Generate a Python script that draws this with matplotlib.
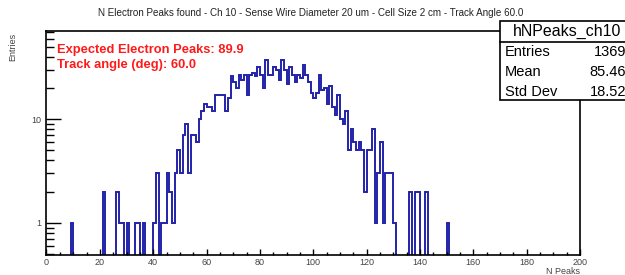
import matplotlib
matplotlib.use('Agg')
import matplotlib.pyplot as plt
import numpy as np
from matplotlib.ticker import FixedLocator, MultipleLocator, LogLocator, NullFormatter
from matplotlib.patches import Rectangle
from matplotlib.lines import Line2D

plt.rcParams['font.family'] = ['Liberation Sans', 'DejaVu Sans']

# histogram contents (bin width 1, range 0-200), only filled bins listed
filled_bins = [9, 21, 26, 27, 28, 30, 33, 34, 36, 40, 41, 43, 44,
               45, 46, 47, 48, 49, 50, 51, 52, 53,
               54, 55, 56, 57, 58, 59, 60, 61, 62,
               63, 64, 65, 66, 67, 68, 69, 70, 71,
               72, 73, 74, 75, 76, 77, 78, 79, 80,
               81, 82, 83, 84, 85, 86, 87, 88, 89,
               90, 91, 92, 93, 94, 95, 96, 97, 98,
               99, 100, 101, 102, 103, 104, 105, 106, 107, 108, 109,
               110, 111, 112, 113, 114, 115, 116, 117, 118,
               119, 120, 121, 122, 123, 124, 125, 126, 127, 128, 129, 130,
               136, 138, 139, 142, 150]
filled_counts = [1, 2, 2, 1, 1, 1, 1, 1, 1, 1, 3, 1, 1,
                 3, 2, 1, 3, 5, 3, 7, 9, 3,
                 7, 7, 6, 10, 12, 14, 13, 13, 12,
                 17, 17, 17, 17, 12, 16, 26, 23, 20,
                 27, 24, 27, 17, 27, 28, 26, 32, 27,
                 20, 37, 27, 27, 32, 30, 24, 37, 30,
                 22, 32, 27, 23, 27, 25, 33, 27, 23,
                 18, 16, 18, 27, 19, 20, 14, 21, 13, 11, 17,
                 10, 9, 12, 5, 8, 6, 5, 6, 5,
                 2, 5, 5, 8, 1, 3, 6, 1, 3, 3, 3, 1,
                 2, 2, 2, 2, 1]

title = 'N Electron Peaks found - Ch 10 - Sense Wire Diameter 20 um - Cell Size 2 cm - Track Angle 60.0'
info_lines = ['Expected Electron Peaks: 89.9', 'Track angle (deg): 60.0']
stats_name = 'hNPeaks_ch10'
stats_rows = [('Entries', '1369'), ('Mean', '85.46'), ('Std Dev', '18.52')]

W, H = 625, 275
edges = np.arange(0, 201, 1)
counts = np.zeros(200)
counts[filled_bins] = filled_counts

fig = plt.figure(figsize=(W / 100, H / 100), dpi=100)
ax = fig.add_axes([46.5 / W, 20 / H, (580 - 46.5) / W, (255 - 31) / H])

# empty bins drop to the floor like ROOT does
ax.stairs(np.where(counts > 0, counts, 1e-3), edges, baseline=None,
          color='#2323a8', lw=1.4)

ax.set_yscale('log')
ax.set_xlim(0, 200)
ax.set_ylim(0.49, 71)

ax.xaxis.set_major_locator(MultipleLocator(20))
ax.xaxis.set_minor_locator(MultipleLocator(5))
ax.yaxis.set_major_locator(FixedLocator([1, 10]))
ax.yaxis.set_major_formatter(plt.FuncFormatter(lambda v, p: '%d' % v))
ax.yaxis.set_minor_locator(LogLocator(subs=np.arange(2, 10)))
ax.yaxis.set_minor_formatter(NullFormatter())

ax.tick_params(axis='x', which='major', direction='in', length=4, width=1,
               labelsize=6.5, pad=2.5, labelcolor='#444444', top=False)
ax.tick_params(axis='x', which='minor', direction='in', length=2, width=1, top=False)
ax.tick_params(axis='y', which='major', direction='in', length=11, width=1,
               labelsize=6.5, pad=4, labelcolor='#444444', right=False)
ax.tick_params(axis='y', which='minor', direction='in', length=6, width=1, right=False)
for s in ax.spines.values():
    s.set_linewidth(1.2)

fig.text(311 / W, 1 - 13 / H, title, ha='center', va='center', fontsize=7.15, color='#222222')
fig.text(13 / W, 1 - 33 / H, 'Entries', rotation=90, ha='center', va='top',
         fontsize=6.5, color='#444444')
fig.text(580 / W, 1 - 271 / H, 'N Peaks', ha='right', va='center',
         fontsize=6.5, color='#444444')

for i, line in enumerate(info_lines):
    ax.text(57 / W, 1 - (50 + 14.5 * i) / H, line, transform=fig.transFigure,
            ha='left', va='center', fontsize=9.3, fontweight='bold', color='#ff1a1a')

# stats box (runs past the right edge as in the original)
bx0, by0, by1 = 500, 21, 100
fig.add_artist(Rectangle((bx0 / W, 1 - by1 / H), (W + 10 - bx0) / W, (by1 - by0) / H,
                         transform=fig.transFigure, facecolor='white',
                         edgecolor='black', lw=1.2, zorder=5))
fig.add_artist(Line2D([bx0 / W, 1.02], [1 - 42 / H, 1 - 42 / H],
                      transform=fig.transFigure, color='black', lw=1.2, zorder=6))
fig.text(567 / W, 1 - 31.5 / H, stats_name, ha='center', va='center',
         fontsize=11.5, zorder=7)
for i, (k, v) in enumerate(stats_rows):
    y = 1 - (52 + 20 * i) / H
    fig.text(505 / W, y, k, ha='left', va='center', fontsize=10.5, zorder=7)
    fig.text(626 / W, y, v, ha='right', va='center', fontsize=10.5, zorder=7)

fig.savefig('out.png', dpi=100)
